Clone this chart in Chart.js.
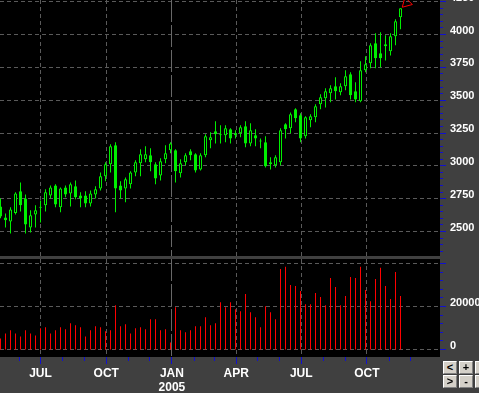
<!DOCTYPE html>
<html>
<head>
<meta charset="utf-8">
<script src="https://cdn.jsdelivr.net/npm/chart.js@4.4.0/dist/chart.umd.min.js"></script>
<style>
  html, body { margin: 0; padding: 0; background: #404040; }
  body { width: 479px; height: 393px; position: relative; overflow: hidden; }
  #price { position: absolute; left: 0; top: 0; }
  #volume { position: absolute; left: 0; top: 259px; }
  .btn {
    position: absolute; width: 14px; height: 13px; box-sizing: border-box;
    background: #d4d0c8; color: #000;
    border-top: 1px solid #ffffff; border-left: 1px solid #ffffff;
    border-right: 1px solid #808080; border-bottom: 1px solid #808080;
    font: bold 11px "Liberation Sans", Arial, sans-serif;
    text-align: center; line-height: 11px;
  }
</style>
</head>
<body>
<canvas id="price" width="479" height="256"></canvas>
<canvas id="volume" width="479" height="134"></canvas>
<div class="btn" style="left:443px;top:361px">&lt;</div>
<div class="btn" style="left:459px;top:361px">+</div>
<div class="btn" style="left:475px;top:361px"></div>
<div class="btn" style="left:443px;top:375px">&gt;</div>
<div class="btn" style="left:459px;top:375px">-</div>
<div class="btn" style="left:475px;top:375px"></div>
<script>
// weekly bars, first one is the week of 6 May 2004
const firstWeek = "2004-05-06";

const opens = [2691, 2607, 2577, 2640, 2806, 2752, 2531, 2630, 2680, 2699,
  2775, 2851, 2684, 2836, 2790, 2844, 2775, 2775, 2714, 2782,
  2828, 2920, 3012, 3156, 2851, 2828, 2859, 2950, 3019, 3050,
  3080, 3012, 2927, 3050, 3118, 3118, 2943, 3027, 3111, 3088,
  2973, 3080, 3194, 3263, 3240, 3232, 3278, 3232, 3248, 3301,
  3171, 3232, 3190, 3179, 3027, 3004, 3027, 3316, 3286, 3431,
  3385, 3225, 3347, 3370, 3468, 3514, 3552, 3606, 3560, 3606,
  3697, 3567, 3491, 3728, 3781, 3933, 3857, 3925, 3872, 3987, 4131];
const highs = [2752, 2638, 2684, 2798, 2874, 2782, 2661, 2699, 2737, 2821,
  2851, 2859, 2836, 2851, 2874, 2889, 2798, 2806, 2813, 2844,
  2950, 3027, 3164, 3179, 2882, 2912, 2958, 3042, 3126, 3149,
  3133, 3027, 3057, 3156, 3179, 3126, 3050, 3095, 3126, 3095,
  3095, 3240, 3255, 3339, 3309, 3309, 3286, 3271, 3309, 3339,
  3324, 3278, 3209, 3225, 3065, 3080, 3286, 3324, 3407, 3438,
  3400, 3377, 3392, 3468, 3545, 3590, 3613, 3674, 3629, 3728,
  3712, 3636, 3796, 3834, 3933, 4010, 4017, 3994, 4010, 4116, 4200];
const lows = [2600, 2530, 2485, 2630, 2653, 2485, 2493, 2531, 2569, 2653,
  2752, 2684, 2646, 2760, 2691, 2745, 2684, 2684, 2691, 2752,
  2813, 2882, 2950, 2646, 2752, 2722, 2828, 2920, 2920, 3027,
  2958, 2859, 2889, 3019, 3095, 2874, 2912, 3004, 3042, 2950,
  2965, 3065, 3133, 3171, 3171, 3179, 3171, 3209, 3217, 3141,
  3149, 3149, 3133, 2988, 2973, 2988, 3004, 3209, 3248, 3331,
  3179, 3209, 3294, 3331, 3431, 3445, 3484, 3506, 3537, 3575,
  3506, 3484, 3484, 3712, 3743, 3743, 3751, 3803, 3841, 3918, 4040];
const closes = [2615, 2585, 2668, 2790, 2699, 2554, 2623, 2661, 2688, 2798,
  2836, 2706, 2828, 2782, 2859, 2760, 2752, 2714, 2790, 2821,
  2920, 3012, 3149, 2828, 2813, 2897, 2950, 3027, 3088, 3088,
  3027, 2904, 3034, 3095, 3171, 2958, 3019, 3080, 3080, 2965,
  3080, 3225, 3217, 3240, 3232, 3286, 3209, 3248, 3294, 3171,
  3271, 3209, 3185, 2996, 3012, 3065, 3271, 3278, 3392, 3362,
  3209, 3370, 3377, 3453, 3522, 3567, 3590, 3567, 3606, 3682,
  3537, 3506, 3728, 3773, 3918, 3819, 3819, 3910, 3987, 4101, 4200];
const volumes = [5160, 7500, 8900, 7500, 6100, 8900, 7500, 6560, 9840, 10300,
  7500, 8900, 10300, 9380, 12200, 11250, 10300, 6100, 8900, 10800,
  10300, 8440, 8900, 20600, 10800, 11700, 7500, 9840, 10300, 9380,
  14060, 14060, 8900, 9380, 3280, 19700, 8900, 7970, 8900, 10800,
  10800, 15000, 11250, 12200, 22000, 19700, 22000, 18750, 17800, 25800,
  17340, 15000, 10300, 20150, 17340, 14060, 37500, 38440, 30000, 29530,
  27190, 21100, 21100, 26250, 24375, 20600, 33280, 29060, 20600, 24840,
  33750, 33280, 38440, 27660, 22500, 32800, 37970, 29530, 23440, 36100, 24840];

// signal arrow after the last bar
const signalWeeks = [81.2];
const signalPrices = [4240];

const priceTicks = [2500, 2750, 3000, 3250, 3500, 3750, 4000, 4250];
const volumeTicks = [0, 20000, 40000];
const quarterDates = ["2004-07-01", "2004-10-01", "2005-01-01", "2005-04-01", "2005-07-01", "2005-10-01"];
const quarterLabels = ["JUL", "OCT", ["JAN", "2005"], "APR", "JUL", "OCT"];
const yearStarts = ["2005-01-01"];
const monthDates = ["2004-06-01", "2004-07-01", "2004-08-01", "2004-09-01", "2004-10-01", "2004-11-01",
  "2004-12-01", "2005-01-01", "2005-02-01", "2005-03-01", "2005-04-01", "2005-05-01", "2005-06-01",
  "2005-07-01", "2005-08-01", "2005-09-01", "2005-10-01", "2005-11-01", "2005-12-01"];

const WEEK = 7 * 24 * 3600 * 1000;
function weekPos(dateStr) {
  return (Date.parse(dateStr) - Date.parse(firstWeek)) / WEEK;
}

const GREEN = "#00ee00";
const RED = "#ff0000";
const GRID = "#5a5a5a";
const TICK_BLUE = "#1010d0";
const LABEL_FONT = { family: "'Liberation Sans', Arial, sans-serif", size: 11, weight: "bold" };

function crisp(p) {
  return Math.floor(p) + 0.5;
}

function fixWidth(scale) {
  scale.width = 39;
  scale.paddingTop = 0;
  scale.paddingBottom = 0;
}

// black plot area + dashed grid, drawn under the bars
function panelBackground(gridValues) {
  return {
    id: "panelBackground",
    beforeDatasetsDraw(chart) {
      const { ctx, chartArea: a, scales } = chart;
      ctx.save();
      ctx.fillStyle = "#000";
      ctx.fillRect(a.left, a.top, a.width, a.height);
      ctx.lineWidth = 1;
      ctx.strokeStyle = GRID;
      ctx.setLineDash([4, 3]);
      ctx.beginPath();
      for (const v of gridValues) {
        const py = crisp(scales.y.getPixelForValue(v));
        ctx.moveTo(a.left, py);
        ctx.lineTo(a.right, py);
      }
      for (const d of quarterDates) {
        if (yearStarts.includes(d)) continue;
        const px = crisp(scales.x.getPixelForValue(weekPos(d)));
        ctx.moveTo(px, a.top);
        ctx.lineTo(px, a.bottom);
      }
      ctx.stroke();
      ctx.strokeStyle = "#686868";
      ctx.setLineDash([22, 3]);
      ctx.beginPath();
      for (const d of yearStarts) {
        const px = crisp(scales.x.getPixelForValue(weekPos(d)));
        ctx.moveTo(px, a.top);
        ctx.lineTo(px, a.bottom);
      }
      ctx.stroke();
      ctx.restore();
    },
  };
}

// blue tick marks on the right axis (and the bottom axis if asked)
function axisTicks(majors, minorStep, withMonths) {
  return {
    id: "axisTicks",
    afterDraw(chart) {
      const { ctx, chartArea: a, scales } = chart;
      ctx.save();
      ctx.strokeStyle = TICK_BLUE;
      ctx.lineWidth = 1;
      ctx.beginPath();
      const y = scales.y;
      for (let v = Math.ceil(y.min / minorStep) * minorStep; v <= y.max; v += minorStep) {
        const py = crisp(y.getPixelForValue(v));
        const len = majors.includes(v) ? 6 : 3;
        ctx.moveTo(a.right, py);
        ctx.lineTo(a.right + len, py);
      }
      if (withMonths) {
        for (const d of monthDates) {
          const pos = weekPos(d);
          if (pos < scales.x.min || pos > scales.x.max) continue;
          const px = crisp(scales.x.getPixelForValue(pos));
          const len = quarterDates.includes(d) ? 7 : 4;
          ctx.moveTo(px, a.bottom);
          ctx.lineTo(px, a.bottom + len);
        }
      }
      ctx.stroke();
      ctx.restore();
    },
  };
}

const xRange = { min: -0.1, max: 87.9 };

const priceChart = new Chart(document.getElementById("price"), {
  type: "bar",
  data: {
    datasets: [
      {
        type: "line",
        data: signalWeeks.map((w, i) => ({ x: w, y: signalPrices[i] })),
        showLine: false,
        pointStyle: "triangle",
        pointRadius: 6,
        pointRotation: 225,
        pointBorderWidth: 1,
        borderColor: RED,
        backgroundColor: "rgba(0,0,0,0)",
        order: 0,
      },
      {
        data: opens.map((o, i) => ({ x: i, y: [o, closes[i]] })),
        maxBarThickness: 3,
        borderWidth: 1,
        borderSkipped: false,
        borderColor: GREEN,
        backgroundColor: (ctx) =>
          closes[ctx.dataIndex] >= opens[ctx.dataIndex] ? "#000" : GREEN,
        minBarLength: 1,
        order: 1,
      },
      {
        data: highs.map((h, i) => ({ x: i, y: [lows[i], h] })),
        maxBarThickness: 1,
        borderWidth: 0,
        backgroundColor: GREEN,
        order: 2,
      },
    ],
  },
  options: {
    responsive: false,
    animation: false,
    events: [],
    layout: { padding: 0, autoPadding: false },
    datasets: { bar: { grouped: false, inflateAmount: 0, barPercentage: 1, categoryPercentage: 1 } },
    plugins: { legend: { display: false }, tooltip: { enabled: false } },
    scales: {
      x: { type: "linear", min: xRange.min, max: xRange.max, offset: false, display: false },
      y: {
        position: "right",
        min: 2313.5,
        max: 4262.7,
        afterFit: fixWidth,
        afterBuildTicks: (scale) => {
          scale.ticks = priceTicks.map((v) => ({ value: v }));
        },
        grid: { display: false, drawTicks: false },
        border: { display: false },
        ticks: {
          color: "#ffffff",
          font: LABEL_FONT,
          padding: 10,
          labelOffset: -4,
          callback: (v) => String(v),
        },
      },
    },
  },
  plugins: [panelBackground(priceTicks), axisTicks(priceTicks, 50, false)],
});

const volumeChart = new Chart(document.getElementById("volume"), {
  type: "bar",
  data: {
    datasets: [
      {
        data: volumes.map((v, i) => ({ x: i, y: v })),
        maxBarThickness: 1,
        borderWidth: 0,
        backgroundColor: RED,
      },
    ],
  },
  options: {
    responsive: false,
    animation: false,
    events: [],
    layout: { padding: 0, autoPadding: false },
    datasets: { bar: { grouped: false, inflateAmount: 0, barPercentage: 1, categoryPercentage: 1 } },
    plugins: { legend: { display: false }, tooltip: { enabled: false } },
    scales: {
      x: {
        type: "linear",
        min: xRange.min,
        max: xRange.max,
        offset: false,
        position: "bottom",
        afterFit: (scale) => {
          scale.height = 36;
          scale.paddingLeft = 0;
          scale.paddingRight = 0;
        },
        afterBuildTicks: (scale) => {
          scale.ticks = quarterDates.map((d) => ({ value: weekPos(d) }));
        },
        grid: { display: false, drawTicks: false },
        border: { display: false },
        ticks: {
          autoSkip: false,
          maxRotation: 0,
          minRotation: 0,
          color: "#ffffff",
          font: { family: LABEL_FONT.family, size: 12, weight: "bold", lineHeight: 1.15 },
          padding: 10,
          callback: (v, i) => quarterLabels[i],
        },
      },
      y: {
        position: "right",
        min: -3488,
        max: 42093,
        afterFit: fixWidth,
        afterBuildTicks: (scale) => {
          scale.ticks = volumeTicks.map((v) => ({ value: v }));
        },
        grid: { display: false, drawTicks: false },
        border: { display: false },
        ticks: {
          color: "#ffffff",
          font: LABEL_FONT,
          padding: 10,
          labelOffset: -4,
          callback: (v) => (v >= 40000 ? "" : String(v)),
        },
      },
    },
  },
  plugins: [panelBackground(volumeTicks), axisTicks(volumeTicks, 4000, true)],
});
</script>
</body>
</html>
